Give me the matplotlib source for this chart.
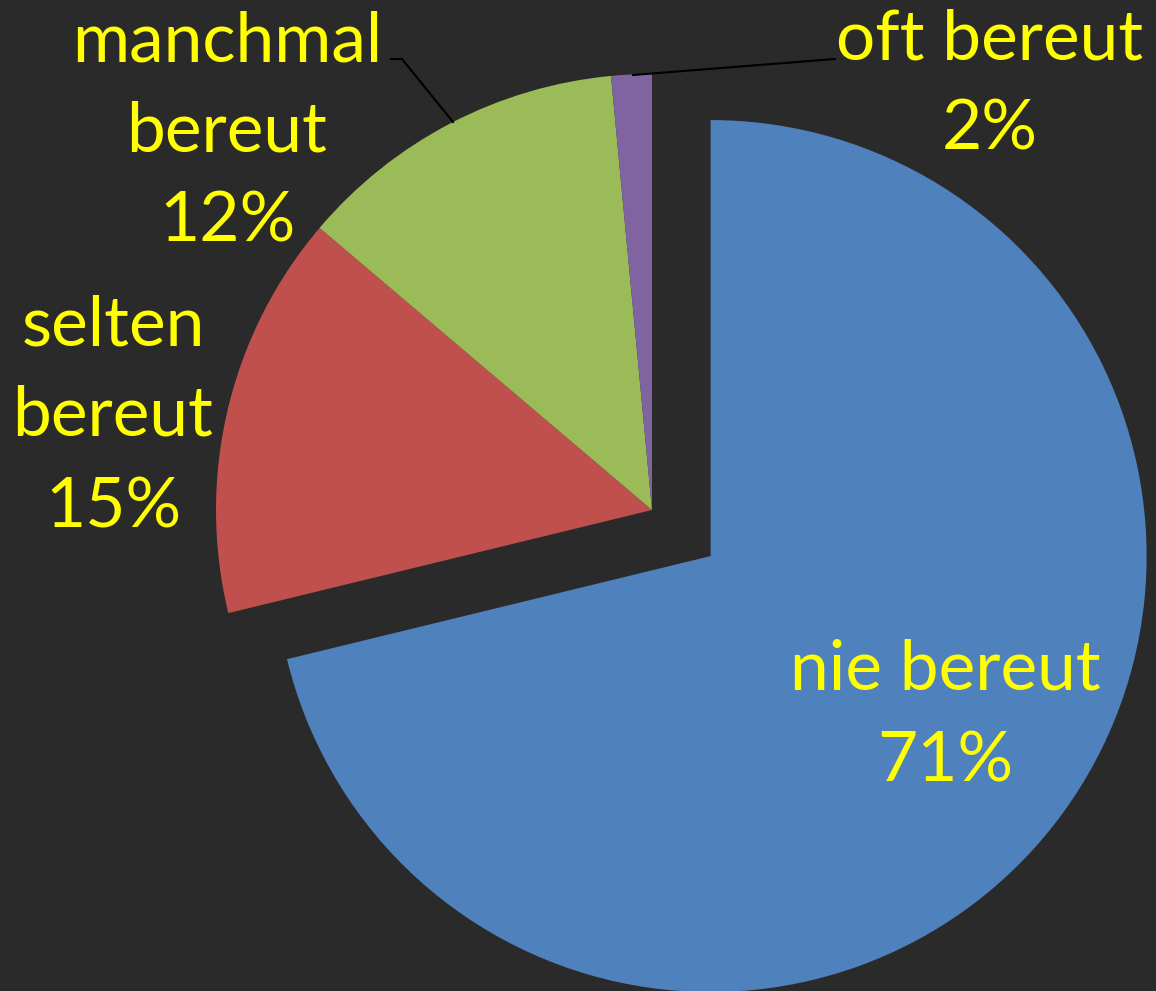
import matplotlib.pyplot as plt

categories = ["nie bereut", "selten bereut", "manchmal bereut", "oft bereut"]
values = [71.2, 15.0, 12.3, 1.5]
colors = ["#4F81BD", "#C0504D", "#9BBB59", "#8064A2"]
label_lines = [
    ["nie bereut", "71%"],
    ["selten", "bereut", "15%"],
    ["manchmal", "bereut", "12%"],
    ["oft bereut", "2%"],
]

W, H = 1156, 991
fig = plt.figure(figsize=(W / 100, H / 100), dpi=100)
fig.patch.set_facecolor("#2a2a2a")
ax = fig.add_axes([0, 0, 1, 1])
ax.set_facecolor("#2a2a2a")

# pie in pixel-like units, y flipped so numbers match the picture
cx, cy, r = 652, H - 510, 436
# explode is in data units (not scaled by radius) in matplotlib
ax.pie(values, colors=colors, startangle=90, counterclock=False,
       explode=[0.171 * r, 0, 0, 0], radius=r, center=(cx, cy),
       wedgeprops=dict(linewidth=0))
ax.set_xlim(0, W)
ax.set_ylim(0, H)
ax.set_aspect("equal")
ax.axis("off")

# label positions: (center x, first baseline y, line step) in picture pixels
label_pos = [(945, 690, 92), (113, 345, 91), (227, 61, 90), (990, 60, 90)]
for lines, (x, y0, step) in zip(label_lines, label_pos):
    for i, line in enumerate(lines):
        ax.text(x, H - (y0 + i * step), line, ha="center", va="baseline",
                color="#FFFF00", fontsize=50, family="Lato")

# leader lines
ax.plot([391, 402, 453], [H - 59, H - 59, H - 122], color="black", lw=1.5)
ax.plot([633, 835], [H - 75, H - 59], color="black", lw=1.5)

fig.savefig("out.png", dpi=100, facecolor=fig.get_facecolor())
